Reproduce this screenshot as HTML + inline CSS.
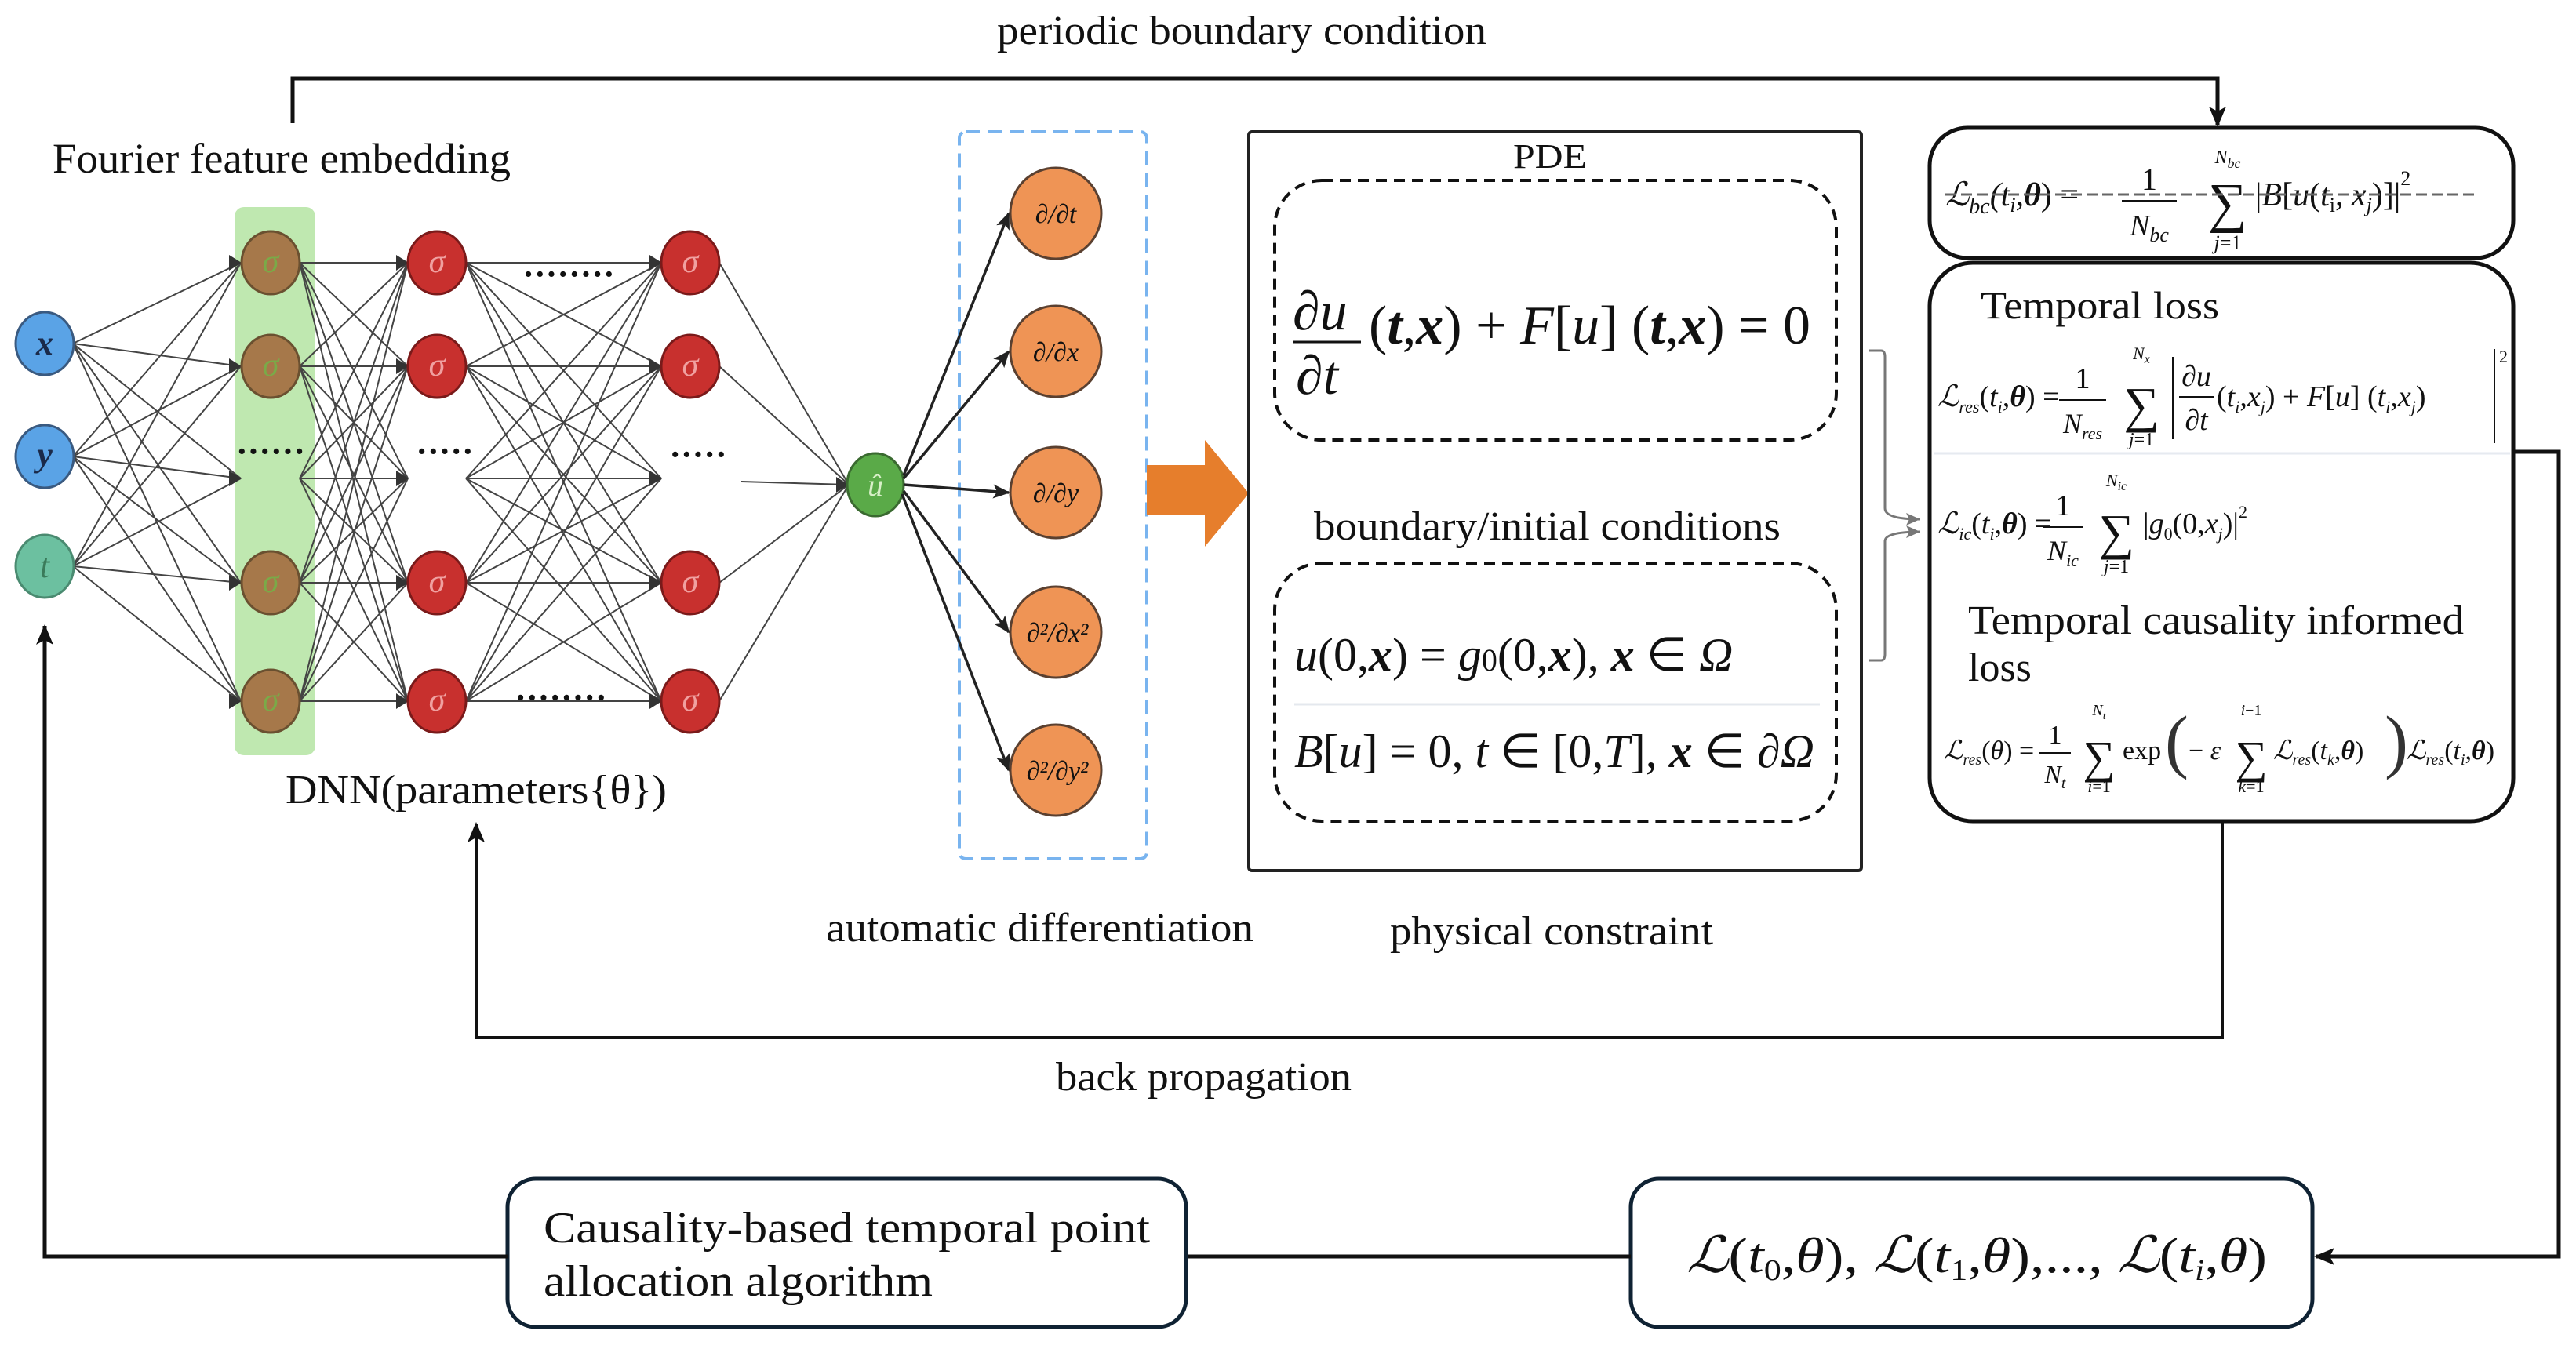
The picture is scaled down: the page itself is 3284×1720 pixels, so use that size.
<!DOCTYPE html>
<html><head><meta charset="utf-8"><style>
html,body{margin:0;padding:0;background:#fff}
svg{display:block}
text{font-family:"Liberation Serif",serif;fill:#111}
.i{font-style:italic}
</style></head><body>
<svg width="3284" height="1720" viewBox="0 0 3284 1720" xmlns="http://www.w3.org/2000/svg">
<defs>
<marker id="b" markerWidth="22" markerHeight="22" refX="20" refY="11" orient="auto" markerUnits="userSpaceOnUse"><path d="M0 2L22 11L0 20L5 11z" fill="#222"/></marker>
<marker id="c" markerWidth="26" markerHeight="26" refX="24" refY="13" orient="auto" markerUnits="userSpaceOnUse"><path d="M0 2L26 13L0 24L6 13z" fill="#111"/></marker>
<marker id="g" markerWidth="20" markerHeight="20" refX="18" refY="10" orient="auto" markerUnits="userSpaceOnUse"><path d="M0 2L18 10L0 18L4 10z" fill="#777"/></marker>
</defs>

<text x="1271" y="56" font-size="52" textLength="624" lengthAdjust="spacingAndGlyphs">periodic boundary condition</text>
<path d="M373 157V100H2827V160" fill="none" stroke="#111" stroke-width="5" marker-end="url(#c)"/>
<text x="67" y="220" font-size="54" textLength="584" lengthAdjust="spacingAndGlyphs">Fourier feature embedding</text>

<rect x="299" y="264" width="103" height="699" rx="12" fill="#bfe8b0"/>

<g stroke="#444" stroke-width="2" fill="none">
<path d="M93 438L307 335M93 438L307 467M93 438L307 610M93 438L307 743M93 438L307 894M93 582L307 335M93 582L307 467M93 582L307 610M93 582L307 743M93 582L307 894M93 722L307 335M93 722L307 467M93 722L307 610M93 722L307 743M93 722L307 894"/>
<path d="M382 335L520 335M382 335L520 467M382 335L520 610M382 335L520 743M382 335L520 894M382 467L520 335M382 467L520 467M382 467L520 610M382 467L520 743M382 467L520 894M382 610L520 335M382 610L520 467M382 610L520 610M382 610L520 743M382 610L520 894M382 743L520 335M382 743L520 467M382 743L520 610M382 743L520 743M382 743L520 894M382 894L520 335M382 894L520 467M382 894L520 610M382 894L520 743M382 894L520 894"/>
<path d="M594 335L843 335M594 335L843 467M594 335L843 610M594 335L843 743M594 335L843 894M594 467L843 335M594 467L843 467M594 467L843 610M594 467L843 743M594 467L843 894M594 610L843 335M594 610L843 467M594 610L843 610M594 610L843 743M594 610L843 894M594 743L843 335M594 743L843 467M594 743L843 610M594 743L843 743M594 743L843 894M594 894L843 335M594 894L843 467M594 894L843 610M594 894L843 743M594 894L843 894"/>
<path d="M917 335L1082 618M917 467L1082 618M917 743L1082 618M917 894L1082 618M945 614L1082 618"/>
</g>
<g fill="#333">
<path d="M292 325l16 10l-16 10zM292 457l16 10l-16 10zM292 600l16 10l-16 10zM292 733l16 10l-16 10zM292 884l16 10l-16 10z"/>
<path d="M505 325l16 10l-16 10zM505 457l16 10l-16 10zM505 600l16 10l-16 10zM505 733l16 10l-16 10zM505 884l16 10l-16 10z"/>
<path d="M828 325l16 10l-16 10zM828 457l16 10l-16 10zM828 600l16 10l-16 10zM828 733l16 10l-16 10zM828 884l16 10l-16 10z"/>
<path d="M1066 608l16 10l-16 10z"/>
</g>

<g stroke="#3a5a80" stroke-width="3">
<ellipse cx="57" cy="438" rx="37" ry="40" fill="#5aa3e6"/>
<ellipse cx="57" cy="582" rx="37" ry="40" fill="#5aa3e6"/>
<ellipse cx="57" cy="722" rx="37" ry="40" fill="#6cc0a0" stroke="#4a8a70"/>
</g>
<text x="57" y="452" font-size="44" class="i" text-anchor="middle" font-weight="bold" style="fill:#1a2a4a">x</text>
<text x="57" y="594" font-size="44" class="i" text-anchor="middle" font-weight="bold" style="fill:#1a2a4a">y</text>
<text x="57" y="736" font-size="44" class="i" text-anchor="middle" style="fill:#3a7a5a">t</text>

<g fill="#a6784a" stroke="#6a5030" stroke-width="3">
<ellipse cx="345" cy="335" rx="37" ry="40"/><ellipse cx="345" cy="467" rx="37" ry="40"/>
<ellipse cx="345" cy="743" rx="37" ry="40"/><ellipse cx="345" cy="894" rx="37" ry="40"/>
</g>
<g font-size="42" text-anchor="middle">
<text x="345" y="347" class="i" style="fill:#7aaa48">σ</text><text x="345" y="479" class="i" style="fill:#7aaa48">σ</text>
<text x="345" y="755" class="i" style="fill:#7aaa48">σ</text><text x="345" y="906" class="i" style="fill:#7aaa48">σ</text>
</g>
<g fill="#c8302e" stroke="#7a1a1a" stroke-width="3">
<ellipse cx="557" cy="335" rx="37" ry="40"/><ellipse cx="557" cy="467" rx="37" ry="40"/>
<ellipse cx="557" cy="743" rx="37" ry="40"/><ellipse cx="557" cy="894" rx="37" ry="40"/>
<ellipse cx="880" cy="335" rx="37" ry="40"/><ellipse cx="880" cy="467" rx="37" ry="40"/>
<ellipse cx="880" cy="743" rx="37" ry="40"/><ellipse cx="880" cy="894" rx="37" ry="40"/>
</g>
<g font-size="42" text-anchor="middle">
<text x="557" y="347" class="i" style="fill:#f0a0a0">σ</text><text x="557" y="479" class="i" style="fill:#f0a0a0">σ</text>
<text x="557" y="755" class="i" style="fill:#f0a0a0">σ</text><text x="557" y="906" class="i" style="fill:#f0a0a0">σ</text>
<text x="880" y="347" class="i" style="fill:#f0a0a0">σ</text><text x="880" y="479" class="i" style="fill:#f0a0a0">σ</text>
<text x="880" y="755" class="i" style="fill:#f0a0a0">σ</text><text x="880" y="906" class="i" style="fill:#f0a0a0">σ</text>
</g>
<g fill="#333" font-weight="bold">
<text x="345" y="590" font-size="44" text-anchor="middle">······</text>
<text x="567" y="590" font-size="44" text-anchor="middle">·····</text>
<text x="890" y="594" font-size="44" text-anchor="middle">·····</text>
<text x="725" y="364" font-size="44" text-anchor="middle">········</text>
<text x="715" y="904" font-size="44" text-anchor="middle">········</text>
</g>
<ellipse cx="1116" cy="618" rx="36" ry="40" fill="#5aaa48" stroke="#3a6a30" stroke-width="3"/>
<text x="1116" y="632" font-size="40" class="i" text-anchor="middle" style="fill:#d8f0c8">û</text>

<rect x="1223" y="168" width="239" height="927" rx="8" fill="none" stroke="#79b4ef" stroke-width="4" stroke-dasharray="18 10"/>
<g stroke="#222" stroke-width="3.5" fill="none">
<path d="M1152 606L1286 272" marker-end="url(#b)"/>
<path d="M1152 610L1286 448" marker-end="url(#b)"/>
<path d="M1152 618L1286 628" marker-end="url(#b)"/>
<path d="M1152 626L1286 806" marker-end="url(#b)"/>
<path d="M1150 630L1286 982" marker-end="url(#b)"/>
</g>
<g fill="#ef9455" stroke="#5a4030" stroke-width="3">
<ellipse cx="1346" cy="272" rx="58" ry="58"/><ellipse cx="1346" cy="448" rx="58" ry="58"/>
<ellipse cx="1346" cy="628" rx="58" ry="58"/><ellipse cx="1346" cy="806" rx="58" ry="58"/>
<ellipse cx="1346" cy="982" rx="58" ry="58"/>
</g>
<g font-size="34" text-anchor="middle" class="i" style="fill:#333">
<text x="1346" y="284">∂/∂t</text><text x="1346" y="460">∂/∂x</text><text x="1346" y="640">∂/∂y</text>
<text x="1348" y="818">∂²/∂x²</text><text x="1348" y="994">∂²/∂y²</text>
</g>
<path d="M1462 593H1536V561L1592 629L1536 697V656H1462z" fill="#e67e2c"/>

<rect x="1592" y="168" width="781" height="942" rx="4" fill="none" stroke="#222" stroke-width="4"/>
<text x="1929" y="214" font-size="44" textLength="94" lengthAdjust="spacingAndGlyphs">PDE</text>
<rect x="1625" y="230" width="716" height="331" rx="60" fill="none" stroke="#111" stroke-width="4" stroke-dasharray="14 9"/>
<text x="1648" y="420" font-size="70" class="i">∂u</text>
<line x1="1648" y1="436" x2="1735" y2="436" stroke="#111" stroke-width="3"/>
<text x="1652" y="502" font-size="70" class="i">∂t</text>
<text x="1745" y="438" font-size="70"><tspan>(</tspan><tspan font-weight="bold" class="i">t</tspan><tspan>,</tspan><tspan font-weight="bold" class="i">x</tspan><tspan>) + </tspan><tspan class="i">F</tspan><tspan>[</tspan><tspan class="i">u</tspan><tspan>] (</tspan><tspan font-weight="bold" class="i">t</tspan><tspan>,</tspan><tspan font-weight="bold" class="i">x</tspan><tspan>) = 0</tspan></text>
<text x="1675" y="688" font-size="52" textLength="595" lengthAdjust="spacingAndGlyphs">boundary/initial conditions</text>
<rect x="1625" y="718" width="716" height="329" rx="60" fill="none" stroke="#111" stroke-width="4" stroke-dasharray="14 9"/>
<text x="1650" y="855" font-size="60"><tspan class="i">u</tspan>(0,<tspan class="i" font-weight="bold">x</tspan>) = <tspan class="i">g</tspan><tspan font-size="40">0</tspan>(0,<tspan class="i" font-weight="bold">x</tspan>),  <tspan class="i" font-weight="bold">x</tspan> ∈ <tspan class="i">Ω</tspan></text>
<line x1="1650" y1="898" x2="2320" y2="898" stroke="#e4e8ee" stroke-width="3"/>
<text x="1650" y="978" font-size="60"><tspan class="i">B</tspan>[<tspan class="i">u</tspan>] = 0,  <tspan class="i">t</tspan> ∈ [0,<tspan class="i">T</tspan>], <tspan class="i" font-weight="bold">x</tspan> ∈ ∂<tspan class="i">Ω</tspan></text>

<path d="M2383 447H2398Q2403 447 2403 455V648Q2403 662 2448 662" fill="none" stroke="#777" stroke-width="3" marker-end="url(#g)"/>
<path d="M2383 842H2398Q2403 842 2403 834V690Q2403 678 2448 678" fill="none" stroke="#777" stroke-width="3" marker-end="url(#g)"/>

<rect x="2460" y="163" width="744" height="166" rx="48" fill="none" stroke="#111" stroke-width="5"/>
<text x="2480" y="262" font-size="42" class="i">ℒ<tspan font-size="28" dy="10">bc</tspan><tspan dy="-10">(t</tspan><tspan font-size="26" dy="8">i</tspan><tspan dy="-8">,</tspan><tspan font-weight="bold">θ</tspan><tspan style="font-style:normal">) =</tspan></text>
<text x="2740" y="242" font-size="40" text-anchor="middle">1</text>
<line x1="2705" y1="256" x2="2775" y2="256" stroke="#111" stroke-width="2"/>
<text x="2740" y="300" font-size="38" class="i" text-anchor="middle">N<tspan font-size="26" dy="8">bc</tspan></text>
<text x="2840" y="282" font-size="70" text-anchor="middle">∑</text>
<text x="2840" y="208" font-size="24" class="i" text-anchor="middle">N<tspan dy="6" font-size="18">bc</tspan></text>
<text x="2840" y="318" font-size="26" text-anchor="middle"><tspan class="i">j</tspan>=1</text>
<text x="2875" y="262" font-size="42">|<tspan class="i">B</tspan>[<tspan class="i">u</tspan>(<tspan class="i">t</tspan><tspan font-size="26" dy="8">i</tspan><tspan dy="-8">, </tspan><tspan class="i">x</tspan><tspan font-size="26" dy="8" class="i">j</tspan><tspan dy="-8">)]|</tspan><tspan font-size="26" dy="-26">2</tspan></text>
<line x1="2480" y1="248" x2="3160" y2="248" stroke="#666" stroke-width="3" stroke-dasharray="14 6"/>

<rect x="2460" y="335" width="744" height="712" rx="55" fill="none" stroke="#111" stroke-width="5"/>
<text x="2525" y="406" font-size="50" textLength="304" lengthAdjust="spacingAndGlyphs">Temporal loss</text>
<text x="2470" y="518" font-size="38"><tspan class="i">ℒ</tspan><tspan font-size="22" dy="8" class="i">res</tspan><tspan dy="-8">(</tspan><tspan class="i">t</tspan><tspan font-size="22" dy="8" class="i">i</tspan><tspan dy="-8">,</tspan><tspan font-weight="bold" class="i">θ</tspan>) =</text>
<text x="2655" y="495" font-size="38" text-anchor="middle">1</text>
<line x1="2625" y1="510" x2="2685" y2="510" stroke="#111" stroke-width="2"/>
<text x="2655" y="552" font-size="36" class="i" text-anchor="middle">N<tspan font-size="22" dy="8">res</tspan></text>
<text x="2730" y="538" font-size="64" text-anchor="middle">∑</text>
<text x="2730" y="458" font-size="22" class="i" text-anchor="middle">N<tspan font-size="16" dy="5">x</tspan></text>
<text x="2730" y="568" font-size="24" text-anchor="middle"><tspan class="i">j</tspan>=1</text>
<line x1="2770" y1="455" x2="2770" y2="560" stroke="#111" stroke-width="2"/>
<text x="2800" y="492" font-size="38" class="i" text-anchor="middle">∂u</text>
<line x1="2778" y1="506" x2="2822" y2="506" stroke="#111" stroke-width="2"/>
<text x="2800" y="548" font-size="38" class="i" text-anchor="middle">∂t</text>
<text x="2826" y="518" font-size="38">(<tspan class="i">t</tspan><tspan font-size="22" dy="8" class="i">i</tspan><tspan dy="-8">,</tspan><tspan class="i">x</tspan><tspan font-size="22" dy="8" class="i">j</tspan><tspan dy="-8">) + </tspan><tspan class="i">F</tspan>[<tspan class="i">u</tspan>] (<tspan class="i">t</tspan><tspan font-size="22" dy="8" class="i">i</tspan><tspan dy="-8">,</tspan><tspan class="i">x</tspan><tspan font-size="22" dy="8" class="i">j</tspan><tspan dy="-8">)</tspan></text>
<line x1="3180" y1="445" x2="3180" y2="565" stroke="#111" stroke-width="2"/>
<text x="3186" y="462" font-size="22">2</text>
<line x1="2465" y1="578" x2="3200" y2="578" stroke="#e6eaf0" stroke-width="3"/>
<text x="2470" y="680" font-size="38"><tspan class="i">ℒ</tspan><tspan font-size="22" dy="8" class="i">ic</tspan><tspan dy="-8">(</tspan><tspan class="i">t</tspan><tspan font-size="22" dy="8" class="i">i</tspan><tspan dy="-8">,</tspan><tspan font-weight="bold" class="i">θ</tspan>) =</text>
<text x="2630" y="657" font-size="38" text-anchor="middle">1</text>
<line x1="2605" y1="672" x2="2655" y2="672" stroke="#111" stroke-width="2"/>
<text x="2630" y="714" font-size="36" class="i" text-anchor="middle">N<tspan font-size="22" dy="8">ic</tspan></text>
<text x="2698" y="700" font-size="64" text-anchor="middle">∑</text>
<text x="2698" y="620" font-size="22" class="i" text-anchor="middle">N<tspan font-size="16" dy="5">ic</tspan></text>
<text x="2698" y="730" font-size="24" text-anchor="middle"><tspan class="i">j</tspan>=1</text>
<text x="2732" y="680" font-size="38">|<tspan class="i">g</tspan><tspan font-size="22" dy="8">0</tspan><tspan dy="-8">(0,</tspan><tspan class="i">x</tspan><tspan font-size="22" dy="8" class="i">j</tspan><tspan dy="-8">)|</tspan><tspan font-size="22" dy="-20">2</tspan></text>
<text x="2509" y="808" font-size="52" textLength="632" lengthAdjust="spacingAndGlyphs">Temporal causality informed</text>
<text x="2509" y="868" font-size="52">loss</text>
<text x="2478" y="968" font-size="34"><tspan class="i">ℒ</tspan><tspan font-size="20" dy="7" class="i">res</tspan><tspan dy="-7">(</tspan><tspan class="i">θ</tspan>) =</text>
<text x="2620" y="948" font-size="34" text-anchor="middle">1</text>
<line x1="2600" y1="960" x2="2640" y2="960" stroke="#111" stroke-width="2"/>
<text x="2620" y="998" font-size="32" class="i" text-anchor="middle">N<tspan font-size="20" dy="7">t</tspan></text>
<text x="2676" y="985" font-size="58" text-anchor="middle">∑</text>
<text x="2676" y="912" font-size="20" class="i" text-anchor="middle">N<tspan font-size="14" dy="5">t</tspan></text>
<text x="2676" y="1010" font-size="22" text-anchor="middle"><tspan class="i">i</tspan>=1</text>
<text x="2706" y="968" font-size="34">exp</text>
<text x="2760" y="975" font-size="90" style="fill:#333">(</text>
<text x="2790" y="968" font-size="34">− <tspan class="i">ε</tspan></text>
<text x="2870" y="985" font-size="58" text-anchor="middle">∑</text>
<text x="2870" y="912" font-size="20" text-anchor="middle"><tspan class="i">i</tspan>−1</text>
<text x="2870" y="1010" font-size="22" text-anchor="middle"><tspan class="i">k</tspan>=1</text>
<text x="2898" y="968" font-size="34"><tspan class="i">ℒ</tspan><tspan font-size="20" dy="7" class="i">res</tspan><tspan dy="-7">(</tspan><tspan class="i">t</tspan><tspan font-size="20" dy="7" class="i">k</tspan><tspan dy="-7">,</tspan><tspan class="i" font-weight="bold">θ</tspan>)</text>
<text x="3040" y="975" font-size="90" style="fill:#333">)</text>
<text x="3068" y="968" font-size="34"><tspan class="i">ℒ</tspan><tspan font-size="20" dy="7" class="i">res</tspan><tspan dy="-7">(</tspan><tspan class="i">t</tspan><tspan font-size="20" dy="7" class="i">i</tspan><tspan dy="-7">,</tspan><tspan class="i" font-weight="bold">θ</tspan>)</text>

<path d="M3204 576H3262V1602H2952" fill="none" stroke="#111" stroke-width="5" marker-end="url(#c)"/>
<rect x="2079" y="1503" width="869" height="189" rx="36" fill="#fff" stroke="#0f2233" stroke-width="5"/>
<text x="2150" y="1622" font-size="64" textLength="740" lengthAdjust="spacingAndGlyphs"><tspan class="i">ℒ</tspan>(<tspan class="i">t</tspan><tspan font-size="38" dy="10">0</tspan><tspan dy="-10">,</tspan><tspan class="i">θ</tspan>), <tspan class="i">ℒ</tspan>(<tspan class="i">t</tspan><tspan font-size="38" dy="10">1</tspan><tspan dy="-10">,</tspan><tspan class="i">θ</tspan>),..., <tspan class="i">ℒ</tspan>(<tspan class="i">t</tspan><tspan font-size="38" dy="10" class="i">i</tspan><tspan dy="-10">,</tspan><tspan class="i">θ</tspan>)</text>
<line x1="1512" y1="1602" x2="2079" y2="1602" stroke="#111" stroke-width="5"/>
<rect x="647" y="1503" width="865" height="189" rx="36" fill="#fff" stroke="#0f2233" stroke-width="5"/>
<text x="693" y="1584" font-size="56" textLength="773" lengthAdjust="spacingAndGlyphs">Causality-based temporal point</text>
<text x="693" y="1652" font-size="56" textLength="496" lengthAdjust="spacingAndGlyphs">allocation algorithm</text>
<path d="M647 1602H57V798" fill="none" stroke="#111" stroke-width="5" marker-end="url(#c)"/>

<path d="M2833 1047V1323H607V1050" fill="none" stroke="#111" stroke-width="4" marker-end="url(#c)"/>
<text x="1346" y="1390" font-size="52" textLength="377" lengthAdjust="spacingAndGlyphs">back propagation</text>
<text x="364" y="1024" font-size="52" textLength="486" lengthAdjust="spacingAndGlyphs">DNN(parameters{θ})</text>
<text x="1053" y="1200" font-size="52" textLength="545" lengthAdjust="spacingAndGlyphs">automatic differentiation</text>
<text x="1772" y="1204" font-size="52" textLength="412" lengthAdjust="spacingAndGlyphs">physical constraint</text>
</svg>
</body></html>
